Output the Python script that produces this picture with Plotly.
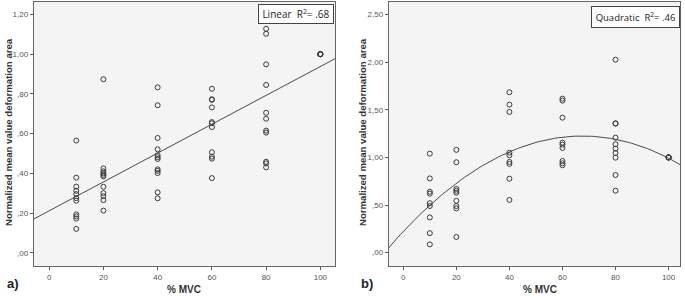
import numpy as np
import plotly.graph_objects as go

# ---------------- data ----------------
mvc_levels = [10, 20, 40, 60, 80, 100]

# Panel a) linear
a_10 = [0.565, 0.378, 0.333, 0.312, 0.295, 0.275, 0.262, 0.193, 0.183, 0.172, 0.12]
a_20 = [0.874, 0.425, 0.41, 0.40, 0.392, 0.385, 0.332, 0.30, 0.285, 0.265, 0.212]
a_40 = [0.833, 0.743, 0.578, 0.521, 0.491, 0.481, 0.472, 0.42, 0.412, 0.401, 0.304, 0.274]
a_60 = [0.826, 0.773, 0.77, 0.732, 0.658, 0.652, 0.633, 0.506, 0.484, 0.474, 0.376]
a_80 = [1.128, 1.103, 0.949, 0.845, 0.705, 0.675, 0.615, 0.605, 0.458, 0.45, 0.43]
a_100 = [1.0, 1.0, 1.0, 1.0, 1.0]
a_fit_coef = [0.211, 0.00727]  # intercept, slope

# Panel b) quadratic
b_10 = [1.04, 0.78, 0.64, 0.62, 0.52, 0.49, 0.37, 0.205, 0.087]
b_20 = [1.08, 0.95, 0.67, 0.65, 0.63, 0.545, 0.49, 0.465, 0.165]
b_40 = [1.685, 1.555, 1.478, 1.05, 1.023, 0.953, 0.932, 0.777, 0.554]
b_60 = [1.618, 1.597, 1.418, 1.155, 1.134, 1.10, 0.963, 0.939, 0.918]
b_80 = [2.027, 1.359, 1.355, 1.208, 1.139, 1.093, 1.047, 0.998, 0.816, 0.651]
b_100 = [1.0, 1.0, 1.0, 1.0, 1.0]
b_fit_coef = [0.223, 0.0297, -0.00022]  # c0, c1, c2

a_yticks = [0, 0.2, 0.4, 0.6, 0.8, 1.0, 1.2]
a_yticktext = [",00", ",20", ",40", ",60", ",80", "1,00", "1,20"]
b_yticks = [0, 0.5, 1.0, 1.5, 2.0, 2.5]
b_yticktext = [",00", ",50", "1,00", "1,50", "2,00", "2,50"]
x_ticks = [0, 20, 40, 60, 80, 100]

x_title = "% MVC"
y_title = "Normalized mean value deformation area"
a_legend = "Linear  R<sup>2</sup>= .68"
b_legend = "Quadratic  R<sup>2</sup>= .46"

# ---------------- figure ----------------
W, H = 685, 296
fig = go.Figure()

def pts(groups):
    xs, ys = [], []
    for lvl, vals in zip(mvc_levels, groups):
        xs += [lvl] * len(vals)
        ys += vals
    return xs, ys

marker = dict(symbol="circle-open", size=5, color="#3a3a3a", line=dict(width=1, color="#3a3a3a"))

ax, ay = pts([a_10, a_20, a_40, a_60, a_80, a_100])
fig.add_trace(go.Scatter(x=ax, y=ay, mode="markers", marker=marker, xaxis="x", yaxis="y",
                         showlegend=False, hoverinfo="x+y"))
bx, by = pts([b_10, b_20, b_40, b_60, b_80, b_100])
fig.add_trace(go.Scatter(x=bx, y=by, mode="markers", marker=marker, xaxis="x2", yaxis="y2",
                         showlegend=False, hoverinfo="x+y"))

xl = np.linspace(-10, 110, 121)
fig.add_trace(go.Scatter(x=xl, y=a_fit_coef[0] + a_fit_coef[1] * xl, mode="lines",
                         line=dict(color="#4a4a4a", width=1), xaxis="x", yaxis="y",
                         showlegend=False, hoverinfo="skip"))
fig.add_trace(go.Scatter(x=xl, y=b_fit_coef[0] + b_fit_coef[1] * xl + b_fit_coef[2] * xl ** 2,
                         mode="lines", line=dict(color="#4a4a4a", width=1), xaxis="x2", yaxis="y2",
                         showlegend=False, hoverinfo="skip"))

def px(x):
    return x / W

def py(y):
    return 1 - y / H

tickfont = dict(family="Liberation Sans, Arial", size=8, color="#555555")
common_x = dict(tickvals=x_ticks, ticks="outside", ticklen=3, tickcolor="#555", tickfont=tickfont,
                showgrid=False, zeroline=False, showline=True, linecolor="#666", linewidth=1,
                mirror=True, fixedrange=True)
common_y = dict(ticks="outside", ticklen=3, tickcolor="#555", tickfont=tickfont,
                showgrid=False, zeroline=False, showline=True, linecolor="#666", linewidth=1,
                mirror=True, fixedrange=True)

ydom = [py(266), py(2)]
fig.update_layout(
    width=W, height=H,
    margin=dict(l=0, r=0, t=0, b=0),
    paper_bgcolor="white",
    plot_bgcolor="#f4f4f4",
    xaxis=dict(domain=[px(33.7), px(335)], range=[-5.7, 105.4], anchor="y", **common_x),
    yaxis=dict(domain=ydom, range=[-0.067, 1.263], tickvals=a_yticks, ticktext=a_yticktext,
               anchor="x", **common_y),
    xaxis2=dict(domain=[px(388.7), px(680)], range=[-5.5, 104.3], anchor="y2", **common_x),
    yaxis2=dict(domain=ydom, range=[-0.14, 2.633], tickvals=b_yticks, ticktext=b_yticktext,
                anchor="x2", **common_y),
    font=dict(family="Liberation Sans, Arial", color="#333"),
)

ann = []
for cx in [184, 540]:
    ann.append(dict(x=px(cx), y=py(289), xref="paper", yref="paper", text="<b>" + x_title + "</b>",
                    showarrow=False, font=dict(family="Liberation Sans, Arial", size=10, color="#333"),
                    xanchor="center", yanchor="middle"))
for cx in [8, 362]:
    ann.append(dict(x=px(cx), y=py(132), xref="paper", yref="paper", text="<b>" + y_title + "</b>",
                    showarrow=False, font=dict(family="Liberation Sans, Arial", size=9.6, color="#333"),
                    textangle=-90, xanchor="center", yanchor="middle"))
for cx, lab in [(13, "a)"), (367, "b)")]:
    ann.append(dict(x=px(cx), y=py(283), xref="paper", yref="paper", text="<b>" + lab + "</b>",
                    showarrow=False, font=dict(family="Liberation Sans, Arial", size=13, color="#222"),
                    xanchor="center", yanchor="middle"))
ann.append(dict(x=px(296.3), y=py(13.5), xref="paper", yref="paper", text=a_legend, showarrow=False,
                font=dict(family="Open Sans, Liberation Sans", size=10, color="#222"),
                bordercolor="#444", borderwidth=1, borderpad=2, bgcolor="white",
                width=70, xanchor="center", yanchor="middle"))
ann.append(dict(x=px(635.6), y=py(17), xref="paper", yref="paper", text=b_legend, showarrow=False,
                font=dict(family="Open Sans, Liberation Sans", size=9.5, color="#222"),
                bordercolor="#444", borderwidth=1, borderpad=3, bgcolor="white",
                width=81, xanchor="center", yanchor="middle"))
fig.update_layout(annotations=ann)

fig.write_html("out.html", config={"displayModeBar": False},
               post_script="document.body.style.margin='0';document.body.style.overflow='hidden';")
